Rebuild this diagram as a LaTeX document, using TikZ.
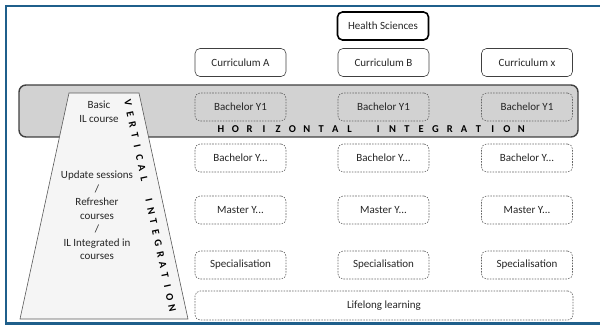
\documentclass[tikz,border=0pt]{standalone}
\usepackage{fontspec}
\setmainfont{Carlito}
\definecolor{framecol}{RGB}{31,95,139}
\definecolor{bandcol}{RGB}{210,210,210}
\definecolor{trapcol}{RGB}{245,245,245}

\begin{document}
\begin{tikzpicture}[x=1pt, y=-1pt,
  every node/.style = {font=\fontsize{11}{13.5}\selectfont, text=black!85,
    align=center, inner sep=0pt},
  curbox/.style = {shape=rectangle, rounded corners=5pt, draw=black!75,
    line width=0.6pt, minimum width=91pt, minimum height=28pt},
  topbox/.style = {curbox, draw=black, line width=1.6pt},
  yearbox/.style = {curbox, draw=black!60, dash pattern=on 1.6pt off 1.2pt},
  hletter/.style = {font=\fontsize{10.5}{10.5}\selectfont\bfseries, text=black},
  vletter/.style = {hletter, rotate=-77.8}]
  \useasboundingbox (0,0) rectangle (600,326);
  % outer frame, runs off the right edge
  \draw[framecol, line width=2.4pt] (6,6) rectangle (612,323.5);

  % horizontal band
  \draw[fill=bandcol, draw=black!75, line width=1.4pt, rounded corners=7pt]
    (19,85) rectangle (578,137);
  % vertical trapezoid
  \draw[fill=trapcol, draw=black!65, line width=0.6pt]
    (69,93) coordinate (tl) -- (139,93) coordinate (tr)
    -- (188,319) coordinate (br) -- (20,319) coordinate (bl) -- cycle;

  \node[topbox] (health) at (383,26) {Health Sciences};

  \node[curbox] (curA) at (240.5,62.5) {Curriculum A};
  \node[curbox] (curB) at (383.5,62.5) {Curriculum B};
  \node[curbox] (curX) at (527,62.5) {Curriculum x};

  \foreach \col/\x in {A/240.5, B/383.5, X/527} {
    \node[yearbox] (bach1\col) at (\x,107) {Bachelor Y1};
    \node[yearbox] (bachN\col) at (\x,158) {Bachelor Y...};
    \node[yearbox] (mast\col)  at (\x,210) {Master Y...};
    \node[yearbox] (spec\col)  at (\x,265) {Specialisation};
  }
  \node[yearbox, minimum width=378pt, minimum height=29pt] (life)
    at (384,305.5) {Lifelong learning};

  % texts inside the trapezoid
  \node (basic) at (99,112) {Basic\\IL course};
  \node (update) at (97,215.5) {Update sessions\\/\\Refresher\\courses\\/\\IL Integrated in\\courses};

  % spaced out band titles
  \foreach \ch [count=\k from 0] in {H,O,R,I,Z,O,N,T,A,L}
    \node[hletter] (h-\k) at ({221+14.3*\k},129.5) {\ch};
  \foreach \ch [count=\k from 11] in {I,N,T,E,G,R,A,T,I,O,N}
    \node[hletter] (h-\k) at ({221+14.3*\k},129.5) {\ch};
  \foreach \ch [count=\k from 0] in {V,E,R,T,I,C,A,L}
    \node[vletter] (v-\k) at ({128+2.32*\k},{103+10.8*\k}) {\ch};
  \foreach \ch [count=\k from 9] in {I,N,T,E,G,R,A,T,I,O,N}
    \node[vletter] (v-\k) at ({128+2.32*\k},{103+10.8*\k}) {\ch};
\end{tikzpicture}
\end{document}
